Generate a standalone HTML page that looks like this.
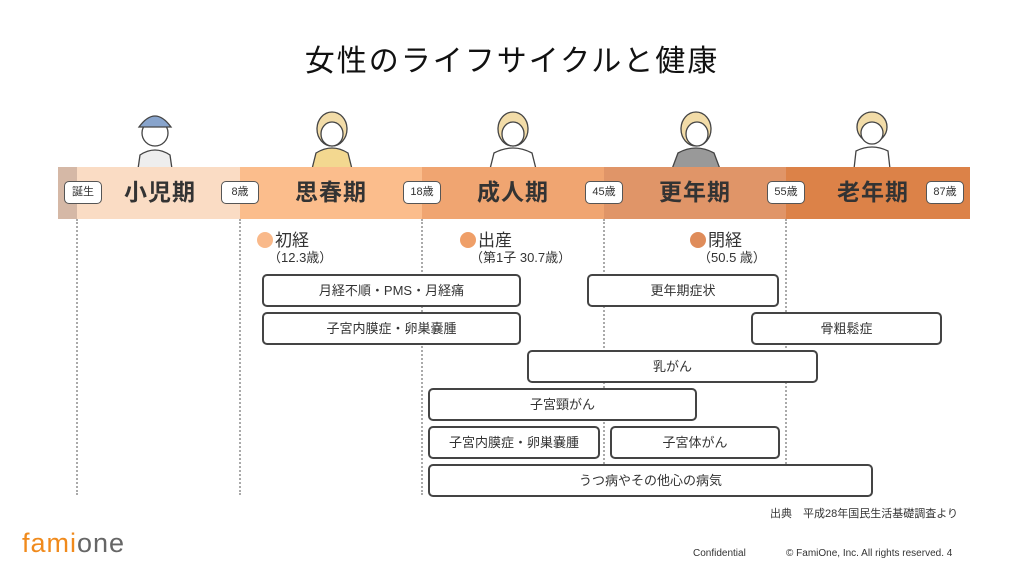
<!DOCTYPE html>
<html><head><meta charset="utf-8"><style>
*{margin:0;padding:0;box-sizing:border-box}
body{width:1024px;height:574px;background:#fff;position:relative;overflow:hidden;font-family:"Liberation Sans","Noto Sans CJK JP",sans-serif;color:#333}
.a{position:absolute}
.seg{position:absolute;top:167px;height:52px}
.tag{position:absolute;top:181px;height:23px;border:1.5px solid #555;border-radius:5px;background:#fff;font-size:11px;line-height:20px;text-align:center;color:#333}
.ph{position:absolute;top:174px;font-size:23px;font-weight:bold;color:#333;text-align:center;line-height:36px;letter-spacing:1px}
.dl{position:absolute;top:219px;height:276px;border-left:2px dotted #aaa}
.box{position:absolute;height:33px;border:2px solid #444;border-radius:5px;background:#fff;font-size:13px;line-height:29px;text-align:center}
.ev{position:absolute;font-size:17px;color:#333}
.ev i{display:inline-block;width:16px;height:16px;border-radius:50%;vertical-align:-2px;margin-right:2px}
.sub{position:absolute;font-size:13px;color:#333}
</style></head><body>
<div class="a" style="left:0;width:1024px;top:36px;text-align:center;font-size:30px;letter-spacing:2px;color:#111">女性のライフサイクルと健康</div>

<svg class="a" style="left:0;top:105px" width="1024" height="64">
<g stroke="#444" stroke-width="1.3">
<ellipse cx="155" cy="28" rx="13" ry="13" fill="#fff"/><path d="M139 22 Q155 0 171 22 Z" fill="#88a4cc"/><path d="M140 50 Q155 40 170 50 L172 64 L138 64Z" fill="#eee"/>
<ellipse cx="332" cy="24" rx="15" ry="17" fill="#f2dca8"/><ellipse cx="332" cy="29" rx="11" ry="12" fill="#fff"/><path d="M316 48 Q332 38 348 48 L352 64 L312 64Z" fill="#f3d890"/>
<ellipse cx="513" cy="24" rx="15" ry="17" fill="#f2dca8"/><ellipse cx="513" cy="29" rx="11" ry="12" fill="#fff"/><path d="M494 48 Q513 38 532 48 L536 64 L490 64Z" fill="#fff"/>
<ellipse cx="696" cy="24" rx="15" ry="17" fill="#f2dca8"/><ellipse cx="697" cy="29" rx="11" ry="12" fill="#fff"/><path d="M678 48 Q696 38 714 48 L720 64 L672 64Z" fill="#999"/>
<ellipse cx="872" cy="22" rx="15" ry="15" fill="#f2dca8"/><ellipse cx="872" cy="28" rx="11" ry="11" fill="#fff"/><path d="M856 46 Q872 38 888 46 L890 64 L854 64Z" fill="#fff"/>
</g></svg>

<div class="seg" style="left:58px;width:19px;background:#d5b8a6"></div>
<div class="seg" style="left:77px;width:163px;background:#fadcc4"></div>
<div class="seg" style="left:240px;width:182px;background:#fbbd8c"></div>
<div class="seg" style="left:422px;width:182px;background:#f0a571"></div>
<div class="seg" style="left:604px;width:182px;background:#e09568"></div>
<div class="seg" style="left:786px;width:184px;background:#dc8248"></div>

<div class="tag" style="left:64px;width:38px">誕生</div>
<div class="tag" style="left:221px;width:38px">8歳</div>
<div class="tag" style="left:403px;width:38px">18歳</div>
<div class="tag" style="left:585px;width:38px">45歳</div>
<div class="tag" style="left:767px;width:38px">55歳</div>
<div class="tag" style="left:926px;width:38px">87歳</div>

<div class="ph" style="left:105px;width:110px">小児期</div>
<div class="ph" style="left:276px;width:110px">思春期</div>
<div class="ph" style="left:458px;width:110px">成人期</div>
<div class="ph" style="left:640px;width:110px">更年期</div>
<div class="ph" style="left:818px;width:110px">老年期</div>

<div class="dl" style="left:76px"></div>
<div class="dl" style="left:239px"></div>
<div class="dl" style="left:421px"></div>
<div class="dl" style="left:603px"></div>
<div class="dl" style="left:785px"></div>

<div class="ev" style="left:257px;top:226px"><i style="background:#f9b98a"></i>初経</div>
<div class="sub" style="left:268px;top:247px">（12.3歳）</div>
<div class="ev" style="left:460px;top:226px"><i style="background:#ef9f68"></i>出産</div>
<div class="sub" style="left:470px;top:247px">（第1子 30.7歳）</div>
<div class="ev" style="left:690px;top:226px"><i style="background:#df8c5a"></i>閉経</div>
<div class="sub" style="left:698px;top:247px">（50.5 歳）</div>

<div class="box" style="left:262px;top:274px;width:259px">月経不順・PMS・月経痛</div>
<div class="box" style="left:262px;top:312px;width:259px">子宮内膜症・卵巣嚢腫</div>
<div class="box" style="left:587px;top:274px;width:192px">更年期症状</div>
<div class="box" style="left:751px;top:312px;width:191px">骨粗鬆症</div>
<div class="box" style="left:527px;top:350px;width:291px">乳がん</div>
<div class="box" style="left:428px;top:388px;width:269px">子宮頸がん</div>
<div class="box" style="left:428px;top:426px;width:172px">子宮内膜症・卵巣嚢腫</div>
<div class="box" style="left:610px;top:426px;width:170px">子宮体がん</div>
<div class="box" style="left:428px;top:464px;width:445px">うつ病やその他心の病気</div>

<div class="a" style="left:770px;top:505px;font-size:11px;color:#333">出典　平成28年国民生活基礎調査より</div>
<div class="a" style="left:22px;top:528px;font-size:27px;letter-spacing:1px"><span style="color:#f08a1c">fami</span><span style="color:#666">one</span></div>
<div class="a" style="left:693px;top:548px;font-size:10px;color:#333">Confidential</div>
<div class="a" style="left:786px;top:548px;font-size:10px;color:#333">© FamiOne, Inc. All rights reserved. 4</div>
</body></html>
